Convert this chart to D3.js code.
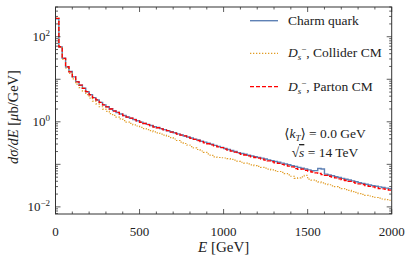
<!DOCTYPE html>
<html>
<head>
<meta charset="utf-8">
<script src="https://cdn.jsdelivr.net/npm/d3@7"></script>
<style>
  body { margin: 0; background: #fff; }
  svg text { font-family: 'Liberation Serif', 'DejaVu Serif', serif; fill: #222; }
</style>
</head>
<body>
<div id="chart"></div>
<script>
// 100 bins of 20 GeV, lower edges
const binWidth = 20
const binStarts = d3.range(0, 2000, binWidth)

const charmQuark = [
  265, 57.5, 31.2, 19.5, 15.2, 11.4, 8.80, 7.25, 6.15, 5.10,
  4.35, 3.70, 3.26, 2.87, 2.50, 2.26, 2.02, 1.83, 1.65, 1.53,
  1.41, 1.30, 1.21, 1.13, 1.06, 0.985, 0.920, 0.868, 0.820, 0.772,
  0.733, 0.690, 0.655, 0.618, 0.584, 0.551, 0.520, 0.492, 0.465, 0.439,
  0.416, 0.392, 0.372, 0.350, 0.332, 0.313, 0.296, 0.279, 0.264, 0.250,
  0.236, 0.223, 0.211, 0.200, 0.189, 0.180, 0.172, 0.164, 0.157, 0.151,
  0.146, 0.140, 0.134, 0.127, 0.122, 0.117, 0.112, 0.107, 0.102, 0.0975,
  0.0932, 0.0890, 0.0850, 0.0812, 0.0776, 0.0742, 0.0708, 0.0710, 0.0800, 0.0780,
  0.0590, 0.0563, 0.0538, 0.0514, 0.0490, 0.0468, 0.0447, 0.0427, 0.0408, 0.0390,
  0.0372, 0.0356, 0.0339, 0.0327, 0.0316, 0.0306, 0.0295, 0.0285, 0.0276, 0.0266
]

const dsCollider = [
  275, 56.9, 29.5, 18.4, 13.7, 10.2, 7.69, 6.37, 5.26, 4.37,
  3.61, 3.05, 2.63, 2.26, 1.99, 1.76, 1.55, 1.41, 1.29, 1.17,
  1.07, 0.987, 0.918, 0.850, 0.796, 0.741, 0.692, 0.653, 0.617, 0.582,
  0.549, 0.513, 0.485, 0.452, 0.426, 0.394, 0.363, 0.334, 0.309, 0.285,
  0.262, 0.243, 0.223, 0.206, 0.191, 0.176, 0.162, 0.149, 0.145, 0.143,
  0.141, 0.136, 0.131, 0.125, 0.118, 0.112, 0.107, 0.102, 0.0975, 0.0936,
  0.0891, 0.0852, 0.0813, 0.0775, 0.0742, 0.0710, 0.0678, 0.0646, 0.0603, 0.0564,
  0.0525, 0.0468, 0.0479, 0.0505, 0.0549, 0.0447, 0.0427, 0.0407, 0.0386, 0.0368,
  0.0347, 0.0331, 0.0313, 0.0299, 0.0282, 0.0270, 0.0254, 0.0243, 0.0229, 0.0219,
  0.0206, 0.0197, 0.0186, 0.0180, 0.0174, 0.0166, 0.0160, 0.0153, 0.0148, 0.0143
]

const dsParton = [
  269, 58.2, 30.9, 19.7, 15.0, 11.5, 8.73, 7.31, 6.11, 5.13,
  4.32, 3.72, 3.28, 2.85, 2.51, 2.24, 2.0, 1.79, 1.66, 1.51,
  1.40, 1.29, 1.22, 1.12, 1.05, 0.977, 0.912, 0.861, 0.813, 0.752,
  0.724, 0.684, 0.646, 0.622, 0.575, 0.543, 0.513, 0.484, 0.466, 0.431,
  0.407, 0.385, 0.363, 0.343, 0.318, 0.305, 0.288, 0.272, 0.257, 0.247,
  0.229, 0.216, 0.204, 0.193, 0.182, 0.171, 0.166, 0.158, 0.151, 0.145,
  0.140, 0.132, 0.126, 0.120, 0.115, 0.108, 0.105, 0.100, 0.0955, 0.0912,
  0.0871, 0.0790, 0.0760, 0.0775, 0.0724, 0.0692, 0.0661, 0.0631, 0.0610, 0.0575,
  0.0550, 0.0525, 0.0501, 0.0479, 0.0457, 0.0430, 0.0417, 0.0398, 0.0380, 0.0363,
  0.0347, 0.0336, 0.0316, 0.0305, 0.0295, 0.0285, 0.0270, 0.0266, 0.0257, 0.0248
]

const xTicks = [0, 500, 1000, 1500, 2000]
const yTicks = [1e-2, 1e-1, 1e0, 1e1, 1e2]
const yLabelExps = ['−2', '', '0', '', '2']

const series = [
  { name: 'Charm quark', values: charmQuark, color: '#5e81b5', dash: null, width: 1.4 },
  { name: 'Collider CM', values: dsCollider, color: '#e19c24', dash: '1.3,1.7', width: 1.2 },
  { name: 'Parton CM', values: dsParton, color: '#ff0000', dash: '4,2', width: 1.3 }
]

const W = 407
const H = 266
const plot = { left: 55.5, right: 391.7, top: 7, bottom: 214 }

const svg = d3.select('#chart').append('svg')
  .attr('width', W)
  .attr('height', H)

const x = d3.scaleLinear().domain([0, 2000]).range([plot.left, plot.right])
const y = d3.scaleLog().domain([0.0068, 500]).range([plot.bottom, plot.top])

// histogram step lines
const line = d3.line()
  .x(d => x(d[0]))
  .y(d => y(d[1]))
  .curve(d3.curveStepAfter)

const plotArea = svg.append('g')

series.forEach(s => {
  const pts = binStarts.map((e, i) => [e, s.values[i]])
  pts.push([2000, s.values[s.values.length - 1]])
  plotArea.append('path')
    .datum(pts)
    .attr('d', line)
    .attr('fill', 'none')
    .attr('stroke', s.color)
    .attr('stroke-width', s.width)
    .attr('stroke-dasharray', s.dash)
})

// frame
svg.append('rect')
  .attr('x', plot.left)
  .attr('y', plot.top)
  .attr('width', plot.right - plot.left)
  .attr('height', plot.bottom - plot.top)
  .attr('fill', 'none')
  .attr('stroke', '#333')
  .attr('stroke-width', 1)

// ticks, pointing inward on all four sides
const ticks = svg.append('g').attr('stroke', '#333').attr('stroke-width', 0.8)
const xMinor = d3.range(0, 2001, 100)
xMinor.forEach(v => {
  const len = v % 500 === 0 ? 5 : 2.5
  ticks.append('line').attr('x1', x(v)).attr('x2', x(v)).attr('y1', plot.bottom).attr('y2', plot.bottom - len)
  ticks.append('line').attr('x1', x(v)).attr('x2', x(v)).attr('y1', plot.top).attr('y2', plot.top + len)
})
const yMinor = y.ticks(40).filter(v => v >= 0.0068 && v <= 500)
yMinor.forEach(v => {
  const major = Math.abs(Math.log10(v) - Math.round(Math.log10(v))) < 1e-6
  const len = major ? 5 : 2.5
  ticks.append('line').attr('x1', plot.left).attr('x2', plot.left + len).attr('y1', y(v)).attr('y2', y(v))
  ticks.append('line').attr('x1', plot.right).attr('x2', plot.right - len).attr('y1', y(v)).attr('y2', y(v))
})

// tick labels
svg.append('g').selectAll('text')
  .data(xTicks)
  .join('text')
  .attr('x', d => x(d))
  .attr('y', 236)
  .attr('text-anchor', 'middle')
  .attr('font-size', 13)
  .text(d => d)

yTicks.forEach((v, i) => {
  if (yLabelExps[i] === '') return
  const t = svg.append('text')
    .attr('x', 50)
    .attr('y', y(v) + 4)
    .attr('text-anchor', 'end')
    .attr('font-size', 13)
  t.append('tspan').text('10')
  t.append('tspan').attr('dy', -5).attr('font-size', 9).text(yLabelExps[i])
})

// axis titles
const xt = svg.append('text')
  .attr('x', (plot.left + plot.right) / 2)
  .attr('y', 252)
  .attr('text-anchor', 'middle')
  .attr('font-size', 15)
xt.append('tspan').attr('font-style', 'italic').text('E')
xt.append('tspan').text(' [GeV]')

const yt = svg.append('text')
  .attr('transform', 'translate(18,' + 117 + ') rotate(-90)')
  .attr('text-anchor', 'middle')
  .attr('font-size', 14.5)
yt.append('tspan').attr('font-style', 'italic').text('dσ/dE')
yt.append('tspan').text(' [')
yt.append('tspan').attr('font-style', 'italic').text('μ')
yt.append('tspan').text('b/GeV]')

// legend
const legendRows = [20.7, 53.3, 86.7]
series.forEach((s, i) => {
  const ly = legendRows[i]
  svg.append('line')
    .attr('x1', 250).attr('x2', 278)
    .attr('y1', ly).attr('y2', ly)
    .attr('stroke', s.color)
    .attr('stroke-width', s.width)
    .attr('stroke-dasharray', s.dash)
  const t = svg.append('text')
    .attr('x', 288)
    .attr('y', ly + 4)
    .attr('font-size', 13.5)
  if (i === 0) {
    t.text(s.name)
  } else {
    t.append('tspan').attr('font-style', 'italic').text('D')
    t.append('tspan').attr('dy', 3).attr('font-size', 9).attr('font-style', 'italic').text('s')
    t.append('tspan').attr('dy', -8).attr('font-size', 9).text('−')
    t.append('tspan').attr('dy', 5).text(', ' + s.name)
  }
})

// annotation
const a1 = svg.append('text')
  .attr('x', 325).attr('y', 138)
  .attr('text-anchor', 'middle')
  .attr('font-size', 13.5)
a1.append('tspan').text('⟨')
a1.append('tspan').attr('font-style', 'italic').text('k')
a1.append('tspan').attr('dy', 3).attr('font-size', 9).attr('font-style', 'italic').text('T')
a1.append('tspan').attr('dy', -3).text('⟩ = 0.0 GeV')

const a2 = svg.append('text')
  .attr('x', 325).attr('y', 157)
  .attr('text-anchor', 'middle')
  .attr('font-size', 13.5)
a2.append('tspan').text('√')
a2.append('tspan').attr('font-style', 'italic').style('text-decoration', 'overline').text('s')
a2.append('tspan').text(' = 14 TeV')
</script>
</body>
</html>
